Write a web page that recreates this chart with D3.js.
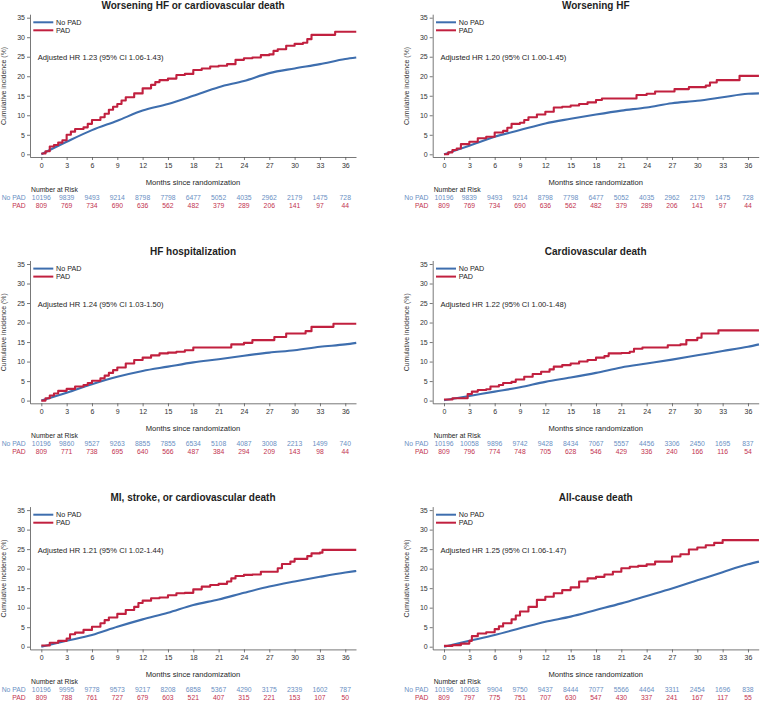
<!DOCTYPE html>
<html><head><meta charset="utf-8">
<script src="https://cdn.jsdelivr.net/npm/d3@7"></script>
<style>body{margin:0;background:#fff}svg{display:block;font-family:"Liberation Sans",Arial,sans-serif}</style>
</head><body>
<script>
const titles = ["Worsening HF or cardiovascular death","Worsening HF","HF hospitalization","Cardiovascular death","MI, stroke, or cardiovascular death","All-cause death"];
const hrLabels = ["Adjusted HR 1.23 (95% CI 1.06-1.43)","Adjusted HR 1.20 (95% CI 1.00-1.45)","Adjusted HR 1.24 (95% CI 1.03-1.50)","Adjusted HR 1.22 (95% CI 1.00-1.48)","Adjusted HR 1.21 (95% CI 1.02-1.44)","Adjusted HR 1.25 (95% CI 1.06-1.47)"];
const seriesNames = ["No PAD","PAD"];
const tickMonths = [0,3,6,9,12,15,18,21,24,27,30,33,36];
const yTicks = [0,5,10,15,20,25,30,35];

const noPad1 = [[0,0],[3,3.2],[6,6.2],[9,8.6],[12,11.2],[15,12.9],[18,15.0],[21,17.2],[24,18.8],[27,20.8],[30,22.0],[33,23.1],[36,24.4],[37.3,24.8]];
const pad1 = [[0,0.2],[0.5,0.8],[1,2.0],[1.5,2.4],[2,3.0],[2.5,3.6],[3,5.0],[3.5,5.8],[4,6.5],[5,6.9],[5.5,7.8],[6,8.8],[7,9.5],[7.5,10.4],[8,11.4],[8.5,12.2],[9,12.9],[9.5,13.8],[10,14.6],[11,15.6],[12,16.9],[13,17.8],[13.5,18.5],[14,19.0],[15,19.4],[16,20.3],[17,20.6],[18,21.6],[19,22.0],[20,22.5],[21,22.7],[22,23.1],[23,24.2],[24,24.6],[25,24.8],[26,25.4],[27,25.6],[27.5,26.5],[28,26.9],[29,27.8],[30,28.3],[31,28.6],[31.5,29.5],[32,30.6],[34.8,31.4],[37.3,31.4]];
const noPad2 = [[0,0],[3,2.2],[6,4.5],[9,6.2],[12,7.9],[15,9.1],[18,10.2],[21,11.2],[24,12.0],[27,13.1],[30,13.7],[33,14.6],[36,15.5],[37.3,15.6]];
const pad2 = [[0,0],[0.5,0.5],[1,1.1],[1.5,1.5],[2,2.6],[3,3.2],[4,4.1],[5,4.5],[6,5.6],[7,6.0],[7.5,6.8],[8,7.8],[9,8.1],[9.5,8.8],[10,9.5],[11,10.2],[12,10.9],[13,12.0],[14,12.2],[15,12.5],[16,12.9],[17,13.3],[18,13.9],[18.7,14.3],[22.8,15.2],[24,15.5],[25,16.1],[27.3,16.7],[29,17.2],[31,17.6],[31.5,18.4],[32.3,19.0],[35,20.1],[37.3,20.1]];
const noPad3 = [[0,0],[3,2.0],[6,4.2],[9,6.1],[12,7.6],[15,8.7],[18,9.8],[21,10.6],[24,11.5],[27,12.3],[30,12.9],[33,13.8],[36,14.4],[37.3,14.8]];
const pad3 = [[0,0],[0.5,0.6],[1,1.3],[1.5,1.8],[2,2.5],[3,3.0],[4,3.6],[5,4.0],[5.5,4.5],[6,5.1],[7,5.7],[7.5,6.4],[8,7.1],[8.5,7.8],[9,8.5],[10,9.5],[11,10.4],[12,11.0],[13,11.6],[14,12.1],[15,12.3],[16,12.5],[17,12.9],[18,13.6],[22.5,14.4],[24,14.8],[25,15.5],[27.6,16.3],[29,17.2],[31.3,17.8],[32,18.9],[34.6,19.7],[37.3,19.7]];
const noPad4 = [[0,0.1],[3,1.2],[6,2.3],[9,3.4],[12,4.8],[15,5.9],[18,7.1],[21,8.5],[24,9.5],[27,10.5],[30,11.6],[33,12.7],[36,13.8],[37.3,14.4]];
const pad4 = [[0,0.3],[1,0.6],[2.8,1.7],[3.3,2.3],[4,2.7],[5,2.9],[5.5,3.6],[6.5,4.0],[7,4.5],[8,4.8],[8.5,5.4],[9.5,6.1],[10.5,6.8],[11.5,7.4],[12.5,8.0],[13,8.7],[14,9.1],[15,9.5],[16,10.0],[17,10.4],[18,11.0],[19,11.4],[19.5,12.1],[21,12.2],[22,12.5],[22.5,13.3],[23.5,13.6],[26.5,14.2],[28,14.4],[28.7,15.5],[30,16.1],[30.5,17.2],[32.5,18.0],[37.3,18.0]];
const noPad5 = [[0,0],[3,1.5],[6,3.0],[9,5.1],[12,7.0],[15,8.7],[18,10.7],[21,12.1],[24,13.8],[27,15.4],[30,16.7],[33,17.9],[36,19.0],[37.3,19.4]];
const pad5 = [[0,0.3],[1,1.0],[2,1.5],[3,2.1],[3.4,3.2],[4,3.6],[5,4.3],[6,5.1],[7,6.0],[7.5,6.8],[8,7.5],[9,8.4],[10,9.4],[11,10.2],[11.5,11.2],[12,11.8],[13,12.4],[14,12.6],[15,13.2],[16,13.7],[17,13.8],[18,14.7],[19,15.4],[20,15.8],[21,16.1],[22,16.7],[22.5,17.5],[23,18.1],[24,18.4],[25,18.5],[26,19.2],[28,20.1],[28.5,21.2],[29.5,21.8],[30,22.5],[31.5,23.2],[32,23.9],[33,24.1],[33.3,24.8],[37.3,24.8]];
const noPad6 = [[0,0],[3,1.5],[6,3.0],[9,4.7],[12,6.4],[15,7.7],[18,9.4],[21,11.1],[24,13.0],[27,14.9],[30,17.0],[33,19.1],[36,21.1],[37.3,21.8]];
const pad6 = [[0,0.2],[1,0.4],[2,0.8],[3,1.5],[3.3,2.7],[4,3.4],[5,3.7],[6,4.5],[6.5,5.2],[7,6.0],[8,7.0],[8.5,8.0],[9,9.0],[10,10.2],[11,12.0],[12,12.8],[13,13.7],[14,14.5],[15,15.2],[16,16.7],[17,17.5],[18,17.9],[19,18.5],[20,19.2],[21,20.1],[22,20.5],[23,20.7],[24,21.1],[25,21.8],[27,23.1],[28,23.7],[29,24.9],[30,25.4],[31,26.0],[32,26.6],[33,27.3],[37.3,27.3]];

const riskNoPad1 = [10196,9839,9493,9214,8798,7798,6477,5052,4035,2962,2179,1475,728];
const riskPad1 = [809,769,734,690,636,562,482,379,289,206,141,97,44];
const riskNoPad2 = [10196,9839,9493,9214,8798,7798,6477,5052,4035,2962,2179,1475,728];
const riskPad2 = [809,769,734,690,636,562,482,379,289,206,141,97,44];
const riskNoPad3 = [10196,9860,9527,9263,8855,7855,6534,5108,4087,3008,2213,1499,740];
const riskPad3 = [809,771,738,695,640,566,487,384,294,209,143,98,44];
const riskNoPad4 = [10196,10058,9896,9742,9428,8434,7067,5557,4456,3306,2450,1695,837];
const riskPad4 = [809,796,774,748,705,628,546,429,336,240,166,116,54];
const riskNoPad5 = [10196,9995,9778,9573,9217,8208,6858,5367,4290,3175,2339,1602,787];
const riskPad5 = [809,788,761,727,679,603,521,407,315,221,153,107,50];
const riskNoPad6 = [10196,10063,9904,9750,9437,8444,7077,5566,4464,3311,2454,1696,838];
const riskPad6 = [809,797,775,751,707,630,547,430,337,241,167,117,55];

const panels = [
  {noPad:noPad1,pad:pad1,rN:riskNoPad1,rP:riskPad1},
  {noPad:noPad2,pad:pad2,rN:riskNoPad2,rP:riskPad2},
  {noPad:noPad3,pad:pad3,rN:riskNoPad3,rP:riskPad3},
  {noPad:noPad4,pad:pad4,rN:riskNoPad4,rP:riskPad4},
  {noPad:noPad5,pad:pad5,rN:riskNoPad5,rP:riskPad5},
  {noPad:noPad6,pad:pad6,rN:riskNoPad6,rP:riskPad6}
];

const W = 760, H = 701;
const BLUE = "#3e6eae", RED = "#c1203f", BLUE_T = "#6a8fc3", RED_T = "#c2324f", TXT = "#1e1e1e", AX = "#555";
const svg = d3.select("body").append("svg").attr("width",W).attr("height",H);

const colOff = [0, 402.7], rowOff = [0, 246.3, 492.4];
const x = d3.scaleLinear().domain([-1.34, 37.27]).range([30, 356]);
const y = d3.scaleLinear().domain([-0.7, 35.9]).range([157.03, 14.19]);

panels.forEach((p, i) => {
  const g = svg.append("g").attr("transform", `translate(${colOff[i%2]},${rowOff[Math.floor(i/2)]})`);
  g.append("text").attr("x", 193).attr("y", 5).attr("dy","0.35em").attr("text-anchor","middle")
    .attr("font-size", 10).attr("font-weight","bold").attr("fill", TXT).text(titles[i]);
  const ya = g.append("g").attr("transform","translate(30,0)")
    .call(d3.axisLeft(y).tickValues(yTicks).tickSize(3).tickPadding(2).tickSizeOuter(0));
  const xa = g.append("g").attr("transform","translate(0,157)")
    .call(d3.axisBottom(x).tickValues(tickMonths).tickSize(3).tickPadding(3).tickSizeOuter(0));
  [ya, xa].forEach(a => {
    a.selectAll("path,line").attr("stroke", AX).attr("stroke-width", 0.8);
    a.selectAll("text").attr("font-size", 7).attr("fill", "#333").attr("font-family","Liberation Sans, Arial, sans-serif");
  });
  g.append("text").attr("transform","translate(4,86) rotate(-90)").attr("dy","0.35em").attr("text-anchor","middle")
    .attr("font-size", 6.9).attr("fill","#333").text("Cumulative incidence (%)");
  g.append("text").attr("x", 193).attr("y", 182).attr("dy","0.35em").attr("text-anchor","middle")
    .attr("font-size", 7.6).attr("fill", TXT).text("Months since randomization");
  const lineSmooth = d3.line().x(d=>x(d[0])).y(d=>y(d[1])).curve(d3.curveMonotoneX);
  const lineStep = d3.line().x(d=>x(d[0])).y(d=>y(d[1])).curve(d3.curveStepAfter);
  g.append("path").datum(p.noPad).attr("d", lineSmooth).attr("fill","none").attr("stroke", BLUE).attr("stroke-width", 2.1);
  g.append("path").datum(p.pad).attr("d", lineStep).attr("fill","none").attr("stroke", RED).attr("stroke-width", 2.1).attr("stroke-linejoin","round");
  [[BLUE, seriesNames[0], 22.3],[RED, seriesNames[1], 30.3]].forEach(([c,t,yy]) => {
    g.append("line").attr("x1",33.3).attr("x2",53.3).attr("y1",yy).attr("y2",yy).attr("stroke",c).attr("stroke-width",2);
    g.append("text").attr("x",56).attr("y",yy).attr("dy","0.35em").attr("font-size",7.2).attr("fill",TXT).text(t);
  });
  g.append("text").attr("x",37.7).attr("y",57.7).attr("dy","0.35em").attr("font-size",7.6).attr("fill",TXT).text(hrLabels[i]);
  g.append("text").attr("x",31).attr("y",189.3).attr("dy","0.35em").attr("font-size",6.8).attr("fill",TXT).text("Number at Risk");
  g.append("text").attr("x",25.7).attr("y",197.4).attr("dy","0.35em").attr("text-anchor","end").attr("font-size",6.8).attr("fill",BLUE_T).text(seriesNames[0]);
  g.append("text").attr("x",25.7).attr("y",205.4).attr("dy","0.35em").attr("text-anchor","end").attr("font-size",6.8).attr("fill",RED_T).text(seriesNames[1]);
  g.selectAll(null).data(p.rN).join("text").attr("x",(d,j)=>x(tickMonths[j])).attr("y",197.4).attr("dy","0.35em")
    .attr("text-anchor","middle").attr("font-size",6.8).attr("fill",BLUE_T).text(d=>d);
  g.selectAll(null).data(p.rP).join("text").attr("x",(d,j)=>x(tickMonths[j])).attr("y",205.4).attr("dy","0.35em")
    .attr("text-anchor","middle").attr("font-size",6.8).attr("fill",RED_T).text(d=>d);
});
</script>
</body></html>
